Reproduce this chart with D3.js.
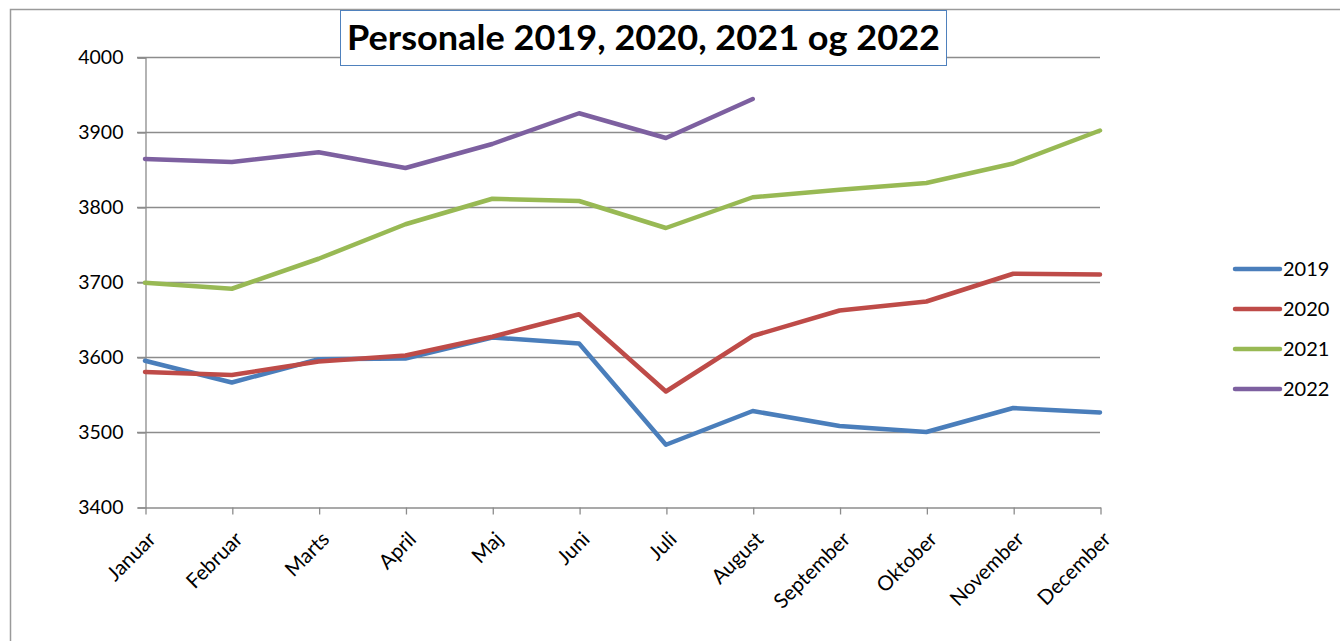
<!DOCTYPE html>
<html>
<head>
<meta charset="utf-8">
<script src="https://cdn.jsdelivr.net/npm/d3@7"></script>
<style>
body { margin: 0; background: #fff; }
svg { display: block; font-family: Lato, "Open Sans", sans-serif; }
</style>
</head>
<body>
<div id="chart"></div>
<script>

var months = ["Januar", "Februar", "Marts", "April", "Maj", "Juni",
	      "Juli", "August", "September", "Oktober", "November", "December"];

var years = ["2019", "2020", "2021", "2022"];

var values2019 = [3595, 3566, 3597, 3598, 3626, 3618, 3483, 3528, 3508, 3500, 3532, 3526];
var values2020 = [3580, 3576, 3594, 3602, 3627, 3657, 3554, 3628, 3662, 3674, 3711, 3710];
var values2021 = [3699, 3691, 3731, 3777, 3811, 3808, 3772, 3813, 3823, 3832, 3858, 3902];
var values2022 = [3864, 3860, 3873, 3852, 3884, 3925, 3892, 3944];

var yTicks = [3400, 3500, 3600, 3700, 3800, 3900, 4000];

var colors = ["#4a7ebb", "#be4b48", "#98b954", "#7d60a0"];

var title = "Personale 2019, 2020, 2021 og 2022";

var series = [values2019, values2020, values2021, values2022].map(function(vals, i){
    return { name: years[i], color: colors[i], values: vals };
});

var width = 1340,
    height = 641;

var svg = d3.select("#chart").append("svg")
    .attr("width", width)
    .attr("height", height);

// outer frame of the chart object
svg.append("rect")
    .attr("x", 10.5).attr("y", 9.5)
    .attr("width", 1340).attr("height", 700)
    .attr("fill", "#fff")
    .attr("stroke", "#9a9a9a")
    .attr("stroke-width", 1.5);

var xScale = d3.scalePoint()
    .domain(months)
    .range([145, 1100]);

var yScale = d3.scaleLinear()
    .domain([3400, 4000])
    .range([507, 57]);

// gridlines
svg.append("g")
    .selectAll("line")
    .data(yTicks.filter(function(d){ return d != 3400; }))
    .enter()
    .append("line")
    .attr("x1", 137).attr("x2", 1100)
    .attr("y1", function(d){ return Math.round(yScale(d)) + 0.5; })
    .attr("y2", function(d){ return Math.round(yScale(d)) + 0.5; })
    .attr("stroke", "#8c8c8c")
    .attr("stroke-width", 1.3);

var yAxis = d3.axisLeft(yScale)
    .tickValues(yTicks)
    .tickFormat(d3.format("d"))
    .tickSize(8)
    .tickPadding(14);

var yAxisG = svg.append("g")
    .attr("transform", "translate(145.5,0.5)")
    .call(yAxis);

yAxisG.select(".domain").attr("stroke", "#8c8c8c").attr("stroke-width", 1.3);
yAxisG.selectAll(".tick line").attr("stroke", "#8c8c8c").attr("stroke-width", 1.3);
yAxisG.selectAll(".tick text")
    .attr("fill", "#000")
    .style("font-size", "19.5px")
    .style("font-family", "Lato, sans-serif");

var xAxis = d3.axisBottom(xScale).tickSize(7).tickSizeOuter(0);

var xAxisG = svg.append("g")
    .attr("transform", "translate(0.5,507.5)")
    .call(xAxis);

xAxisG.select(".domain").attr("stroke", "#8c8c8c").attr("stroke-width", 1.3);
xAxisG.selectAll(".tick line").attr("stroke", "#8c8c8c").attr("stroke-width", 1.3);
xAxisG.selectAll(".tick text")
    .attr("fill", "#000")
    .attr("y", 0)
    .attr("dy", 0)
    .attr("text-anchor", "end")
    .attr("transform", "translate(11,33) rotate(-45)")
    .style("font-size", "20.5px")
    .style("font-family", "Lato, sans-serif");

// lines
var line = d3.line()
    .x(function(d, i){ return xScale(months[i]); })
    .y(function(d){ return yScale(d); });

svg.append("g")
    .selectAll("path")
    .data(series)
    .enter()
    .append("path")
    .attr("d", function(s){ return line(s.values); })
    .attr("fill", "none")
    .attr("stroke", function(s){ return s.color; })
    .attr("stroke-width", 4.5)
    .attr("stroke-linejoin", "round")
    .attr("stroke-linecap", "round");

// legend
var legend = svg.append("g")
    .selectAll("g")
    .data(series)
    .enter()
    .append("g")
    .attr("transform", function(s, i){ return "translate(0," + (269 + i * 40) + ")"; });

legend.append("line")
    .attr("x1", 1235).attr("x2", 1280)
    .attr("y1", 0).attr("y2", 0)
    .attr("stroke", function(s){ return s.color; })
    .attr("stroke-width", 4.5)
    .attr("stroke-linecap", "round");

legend.append("text")
    .attr("x", 1283)
    .attr("y", 0)
    .attr("dy", "0.36em")
    .style("font-size", "20px")
    .text(function(s){ return s.name; });

// title
svg.append("rect")
    .attr("x", 340.5).attr("y", 10.5)
    .attr("width", 606).attr("height", 55)
    .attr("fill", "#fff")
    .attr("stroke", "#4f81bd")
    .attr("stroke-width", 1);

svg.append("text")
    .attr("x", 347)
    .attr("y", 50)
    .attr("textLength", 593)
    .attr("lengthAdjust", "spacingAndGlyphs")
    .style("font-size", "34px")
    .style("font-weight", "bold")
    .text(title);

</script>
</body>
</html>
